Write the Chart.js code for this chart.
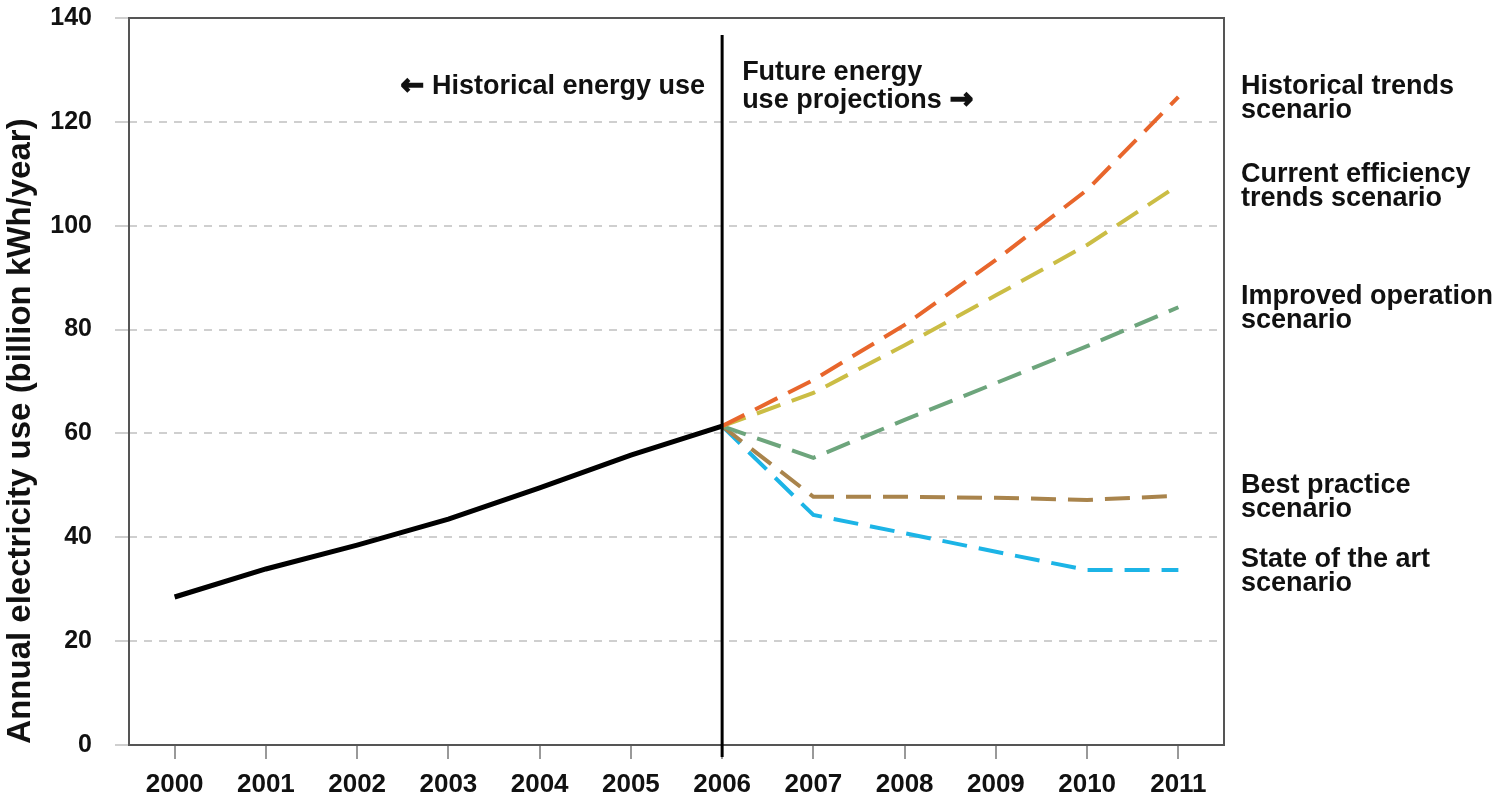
<!DOCTYPE html>
<html>
<head>
<meta charset="utf-8">
<script src="https://cdn.jsdelivr.net/npm/chart.js@4"></script>
<style>
  html, body { margin: 0; padding: 0; background: #fff; }
  #wrap { width: 1500px; height: 803px; }
</style>
</head>
<body>
<div id="wrap"><canvas id="energyChart" width="1500" height="803"></canvas></div>
<script>
// data
const years = ['2000','2001','2002','2003','2004','2005','2006','2007','2008','2009','2010','2011'];
const historical = [28.5, 33.9, 38.5, 43.5, 49.5, 55.8, 61.4, null, null, null, null, null];
const historicalTrends = [null, null, null, null, null, null, 61.4, 70.3, 80.9, 93.4, 106.9, 124.8];
const currentEfficiency = [null, null, null, null, null, null, 61.4, 67.8, 77.0, 86.6, 96.3, 107.8];
const improvedOperation = [null, null, null, null, null, null, 61.4, 55.3, 62.6, 69.7, 76.8, 84.3];
const bestPractice = [null, null, null, null, null, null, 61.4, 47.8, 47.8, 47.6, 47.2, 48.0];
const stateOfArt = [null, null, null, null, null, null, 61.4, 44.3, 40.8, 37.2, 33.7, 33.7];
const yTicks = [0, 20, 40, 60, 80, 100, 120, 140];

const FONT = '"Liberation Sans", Arial, sans-serif';
const ARROW_FONT = 'bold 28px "DejaVu Sans", sans-serif';
const Y_TITLE = 'Annual electricity use (billion kWh/year)';

const scenarios = [
  { lines: ['Historical trends', 'scenario'], data: historicalTrends, color: '#e8662c' },
  { lines: ['Current efficiency', 'trends scenario'], data: currentEfficiency, color: '#cbbd45' },
  { lines: ['Improved operation', 'scenario'], data: improvedOperation, color: '#6da57c' },
  { lines: ['Best practice', 'scenario'], data: bestPractice, color: '#a9844c' },
  { lines: ['State of the art', 'scenario'], data: stateOfArt, color: '#1cb4e6' }
];

function arrow(ctx, ch, x, y) {
  ctx.font = ARROW_FONT;
  ctx.lineWidth = 1.6;
  ctx.strokeStyle = '#111';
  ctx.fillText(ch, x, y);
  ctx.strokeText(ch, x, y);
}

// box around plot, the 2006 divider and all the text labels
const decorations = {
  id: 'decorations',
  beforeDatasetsDraw(chart) {
    const { ctx, chartArea: a } = chart;
    ctx.save();
    ctx.strokeStyle = '#555';
    ctx.lineWidth = 2;
    ctx.strokeRect(a.left, a.top, a.right - a.left, a.bottom - a.top);
    ctx.restore();
  },
  afterDatasetsDraw(chart) {
    const { ctx, scales } = chart;
    const x6 = scales.x.getPixelForValue(6);
    ctx.save();
    ctx.strokeStyle = '#000';
    ctx.lineWidth = 3;
    ctx.beginPath();
    ctx.moveTo(x6, 35);
    ctx.lineTo(x6, 757);
    ctx.stroke();

    ctx.fillStyle = '#111';
    ctx.textBaseline = 'alphabetic';
    // left annotation
    ctx.font = 'bold 27px ' + FONT;
    ctx.textAlign = 'right';
    const leftText = 'Historical energy use';
    ctx.fillText(leftText, x6 - 17, 94);
    const lw = ctx.measureText(leftText).width;
    arrow(ctx, '\u2190', x6 - 17 - lw - 8, 94);
    // right annotation
    ctx.font = 'bold 27px ' + FONT;
    ctx.textAlign = 'left';
    ctx.fillText('Future energy', x6 + 20, 80);
    const rText = 'use projections';
    ctx.fillText(rText, x6 + 20, 108);
    const rw = ctx.measureText(rText).width;
    arrow(ctx, '\u2192', x6 + 20 + rw + 8, 108);

    // scenario labels next to the line ends
    ctx.font = 'bold 27px ' + FONT;
    scenarios.forEach(s => {
      const yc = scales.y.getPixelForValue(s.data[s.data.length - 1]);
      ctx.fillText(s.lines[0], 1241, yc - 3);
      ctx.fillText(s.lines[1], 1241, yc + 21);
    });

    // y axis title
    ctx.translate(21, 431);
    ctx.rotate(-Math.PI / 2);
    ctx.textAlign = 'center';
    ctx.textBaseline = 'middle';
    ctx.font = 'bold 33px ' + FONT;
    ctx.fillText(Y_TITLE, 0, 0);
    ctx.restore();
  }
};

const dashed = (label, data, color) => ({
  label, data,
  borderColor: color,
  borderWidth: 4,
  borderDash: [25, 12],
  pointRadius: 0,
  tension: 0
});

new Chart(document.getElementById('energyChart').getContext('2d'), {
  type: 'line',
  data: {
    labels: years,
    datasets: [
      { label: 'Historical', data: historical, borderColor: '#000', borderWidth: 5, pointRadius: 0, tension: 0 },
      ...scenarios.map(s => dashed(s.lines.join(' '), s.data, s.color))
    ]
  },
  options: {
    responsive: false,
    animation: false,
    layout: { padding: { left: 0, top: 18, right: 276, bottom: 0 } },
    plugins: { legend: { display: false }, tooltip: { enabled: false } },
    scales: {
      x: {
        offset: true,
        grid: { drawOnChartArea: false, drawTicks: true, tickLength: 14, color: '#999', lineWidth: 2, offset: false },
        border: { display: false },
        ticks: { color: '#111', font: { family: FONT, size: 26, weight: 'bold' }, padding: 10 },
        afterFit: s => { s.height = 58; s.paddingLeft = 0; s.paddingRight = 0; }
      },
      y: {
        min: 0, max: 140,
        afterBuildTicks: s => { s.ticks = yTicks.map(v => ({ value: v })); },
        grid: { color: '#cfcfcf', lineWidth: 2, tickLength: 14 },
        border: { display: false, dash: [8, 7] },
        ticks: { color: '#111', font: { family: FONT, size: 25, weight: 'bold' }, padding: 23 },
        afterFit: s => { s.width = 129; s.paddingTop = 0; s.paddingBottom = 0; }
      }
    }
  },
  plugins: [decorations]
});
</script>
</body>
</html>
